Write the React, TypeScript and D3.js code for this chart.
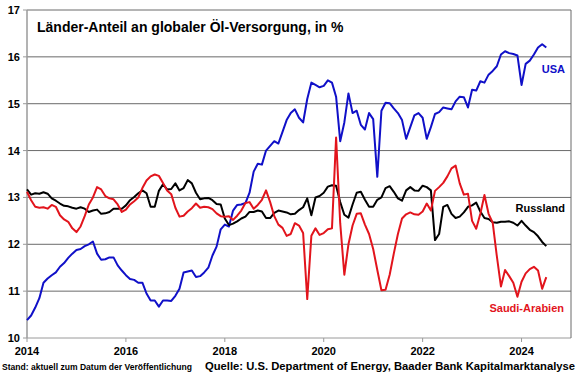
import React from "react";
import * as d3 from "d3";

// Monthly shares (Jan 2014 – Jul 2024), % of global oil supply
const usa = [
  10.38, 10.48, 10.65, 10.85, 11.18, 11.27, 11.34, 11.40, 11.52, 11.60, 11.71, 11.80,
  11.88, 11.90, 11.96, 12.00, 12.06, 11.80, 11.67, 11.68, 11.72, 11.72, 11.55, 11.44,
  11.34, 11.26, 11.24, 11.18, 11.18, 10.95, 10.80, 10.80, 10.67, 10.80, 10.80, 10.79,
  10.90, 11.05, 11.40, 11.42, 11.44, 11.30, 11.32, 11.40, 11.50, 11.76, 11.95, 12.32,
  12.42, 12.38, 12.72, 12.84, 12.85, 12.88, 13.10, 13.55, 13.72, 13.70, 14.00, 14.10,
  14.20, 14.15, 14.40, 14.65, 14.80, 14.88, 14.70, 14.60, 15.10, 15.45, 15.40, 15.35,
  15.38, 15.50, 15.45, 15.15, 14.20, 14.60, 15.22, 14.80, 14.85, 14.55, 14.45, 14.80,
  14.67, 13.44, 14.85, 15.02, 15.01, 14.90, 14.80, 14.65, 14.25, 14.50, 14.75, 14.80,
  14.70, 14.25, 14.50, 14.78, 14.82, 14.92, 14.90, 14.88, 15.05, 15.15, 15.14, 14.92,
  15.30, 15.28, 15.48, 15.45, 15.62, 15.70, 15.80, 16.05, 16.12, 16.08, 16.06, 16.03,
  15.40, 15.85, 15.92, 16.05, 16.20, 16.27, 16.20,
];

const russia = [
  13.17, 13.06, 13.09, 13.08, 13.11, 13.08, 12.98, 12.93, 12.87, 12.82, 12.81, 12.78,
  12.76, 12.79, 12.76, 12.69, 12.72, 12.74, 12.65, 12.66, 12.69, 12.76, 12.76, 12.76,
  12.83, 12.94, 13.01, 13.09, 13.15, 13.09, 12.80, 12.80, 13.14, 13.28, 13.17, 13.18,
  13.30, 13.15, 13.20, 13.37, 13.30, 13.10, 12.96, 12.98, 12.99, 12.94, 12.86, 12.85,
  12.55, 12.41, 12.44, 12.49, 12.55, 12.59, 12.69, 12.69, 12.72, 12.70, 12.56, 12.56,
  12.67, 12.72, 12.70, 12.68, 12.64, 12.65, 12.73, 12.79, 12.98, 12.62, 13.00, 13.03,
  13.10, 13.23, 13.26, 13.25, 12.90, 12.63, 12.57, 12.85, 13.10, 13.12, 12.95, 12.80,
  12.80, 12.95, 13.00, 13.20, 13.24, 13.12, 12.98, 12.93, 13.15, 13.22, 13.15, 13.14,
  13.25, 13.22, 13.15, 12.09, 12.22, 12.80, 12.84, 12.65, 12.56, 12.59, 12.68, 12.80,
  12.83, 12.89, 12.70, 12.56, 12.54, 12.47, 12.46, 12.48, 12.48, 12.49, 12.46, 12.40,
  12.50, 12.40, 12.31, 12.26, 12.17, 12.05, 11.96,
];

const saudi = [
  13.12, 12.94, 12.80, 12.78, 12.79, 12.76, 12.84, 12.80, 12.62, 12.53, 12.48, 12.34,
  12.26, 12.38, 12.60, 12.85, 13.00, 13.22, 13.17, 13.03, 12.98, 12.96, 12.85, 12.69,
  12.74, 12.85, 12.92, 13.00, 13.20, 13.36, 13.45, 13.49, 13.46, 13.31, 13.15, 13.07,
  12.78, 12.59, 12.61, 12.70, 12.77, 12.87, 12.78, 12.80, 12.79, 12.75, 12.66, 12.60,
  12.59, 12.60, 12.52, 12.61, 12.72, 12.88, 12.90, 12.76, 12.84, 12.95, 13.15, 12.90,
  12.60, 12.42, 12.35, 12.18, 12.22, 12.45, 12.40, 12.24, 10.83, 12.18, 12.34, 12.20,
  12.24, 12.32, 12.34, 14.28, 12.45, 11.35, 12.00, 12.40, 12.65, 12.66, 12.42, 12.22,
  11.90, 11.45, 11.02, 11.03, 11.35, 11.80, 12.22, 12.55, 12.64, 12.68, 12.64, 12.63,
  12.70, 12.87, 12.72, 13.14, 13.22, 13.31, 13.45, 13.62, 13.68, 13.30, 13.06, 13.08,
  12.50, 12.33, 12.65, 13.05, 12.65, 12.46, 11.75, 11.10, 11.45, 11.32, 11.18, 10.88,
  11.20, 11.38, 11.47, 11.52, 11.44, 11.05, 11.30,
];

const startYear = 2014;
const xTicks = [2014, 2016, 2018, 2020, 2022, 2024];
const yTicks = [10, 11, 12, 13, 14, 15, 16, 17];

const title = "Länder-Anteil an globaler Öl-Versorgung, in %";
const footLeft = "Stand: aktuell zum Datum der Veröffentlichung";
const footRight = "Quelle: U.S. Department of Energy, Baader Bank Kapitalmarktanalyse";

const W = 580;
const H = 375;
const left = 27;
const right = 571;
const top = 10;
const bottom = 338;

const FONT = "'Liberation Sans', Arial, sans-serif";

export default function App() {
  const x = d3.scaleLinear().domain([2014, 2025]).range([left, right]);
  const y = d3.scaleLinear().domain([10, 17]).range([bottom, top]);
  const line = d3
    .line<number>()
    .x((_, i) => x(startYear + i / 12))
    .y((d) => y(d));

  const series = [
    { name: "USA", data: usa, color: "#1010c8" },
    { name: "Russland", data: russia, color: "#000000" },
    { name: "Saudi-Arabien", data: saudi, color: "#e2141c" },
  ];

  return (
    <svg
      width={W}
      height={H}
      style={{ position: "absolute", left: 0, top: 0, background: "#fff" }}
      fontFamily={FONT}
    >
      <rect x={0} y={0} width={W} height={H} fill="#fff" />
      {/* gridlines */}
      {yTicks.map((t) => (
        <line
          key={t}
          x1={left}
          x2={right}
          y1={y(t)}
          y2={y(t)}
          stroke={t === 10 ? "#9a9a9a" : "#6a6a6a"}
          strokeWidth={1}
        />
      ))}
      {/* axes / border */}
      <line x1={left} x2={left} y1={top} y2={bottom} stroke="#9a9a9a" strokeWidth={1.5} />
      <line x1={right} x2={right} y1={top} y2={bottom} stroke="#6a6a6a" strokeWidth={1} />
      {yTicks.map((t) => (
        <g key={"yl" + t}>
          <line x1={left - 4} x2={left} y1={y(t)} y2={y(t)} stroke="#9a9a9a" />
          <text
            x={20}
            y={y(t) + 4}
            textAnchor="end"
            fontSize={11}
            fontWeight="bold"
            fill="#000"
          >
            {t}
          </text>
        </g>
      ))}
      {xTicks.map((t) => (
        <g key={"xl" + t}>
          <line x1={x(t)} x2={x(t)} y1={bottom} y2={bottom + 4} stroke="#9a9a9a" />
          <text
            x={x(t)}
            y={355}
            textAnchor="middle"
            fontSize={11}
            fontWeight="bold"
            fill="#000"
          >
            {t}
          </text>
        </g>
      ))}

      {/* title */}
      <text x={37} y={32} fontSize={14} fontWeight="bold" fill="#000">
        {title}
      </text>

      {/* series */}
      {series.map((s) => (
        <path
          key={s.name}
          d={line(s.data) || ""}
          fill="none"
          stroke={s.color}
          strokeWidth={2}
          strokeLinejoin="round"
        />
      ))}

      {/* series labels */}
      <text x={565} y={73} textAnchor="end" fontSize={11} fontWeight="bold" fill="#1010c8">
        USA
      </text>
      <text x={565} y={212} textAnchor="end" fontSize={11} fontWeight="bold" fill="#000">
        Russland
      </text>
      <text x={564} y={312} textAnchor="end" fontSize={11} fontWeight="bold" fill="#e2141c">
        Saudi-Arabien
      </text>

      {/* footer */}
      <text
        x={2}
        y={370}
        fontSize={8.5}
        fontWeight="bold"
        fill="#000"
        textLength={190}
        lengthAdjust="spacingAndGlyphs"
      >
        {footLeft}
      </text>
      <text
        x={205}
        y={370}
        fontSize={11}
        fontWeight="bold"
        fill="#000"
        textLength={370}
        lengthAdjust="spacingAndGlyphs"
      >
        {footRight}
      </text>
    </svg>
  );
}
